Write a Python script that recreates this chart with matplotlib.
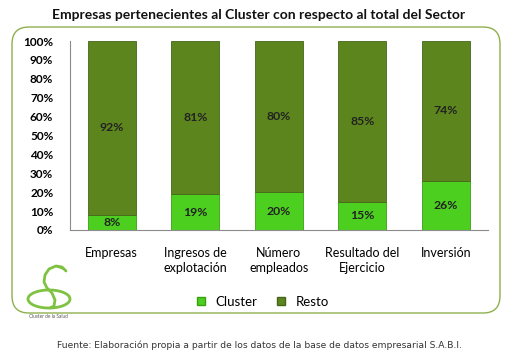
import matplotlib.pyplot as plt
from matplotlib.patches import FancyBboxPatch, Arc
from matplotlib.lines import Line2D
import numpy as np

# Data
categorias = ['Empresas', 'Ingresos de\nexplotación', 'Número\nempleados',
              'Resultado del\nEjercicio', 'Inversión']
cluster = [8, 19, 20, 15, 26]
resto = [92, 81, 80, 85, 74]

col_cluster = '#4ccf1f'
col_resto = '#5c861d'

plt.rcParams['font.family'] = ['Lato', 'DejaVu Sans']

fig = plt.figure(figsize=(5.18, 3.61), dpi=100)
ax = fig.add_axes([70 / 518, 131 / 361, 417.5 / 518, 189 / 361])

x = np.arange(len(categorias))
ax.bar(x, cluster, width=0.57, color=col_cluster, edgecolor='#3aa012', linewidth=0.6)
ax.bar(x, resto, width=0.57, bottom=cluster, color=col_resto, edgecolor='#45661a', linewidth=0.6)

for i in range(len(x)):
    ax.text(x[i], cluster[i] / 2, f'{cluster[i]}%', ha='center', va='center',
            fontsize=8.8, fontweight='bold', color='#222222')
    ax.text(x[i], cluster[i] + resto[i] / 2, f'{resto[i]}%', ha='center', va='center',
            fontsize=8.8, fontweight='bold', color='#222222')

ax.set_xlim(-0.5, len(x) - 0.5)
ax.set_ylim(0, 100)
ax.set_yticks(range(0, 101, 10))
ax.set_yticklabels([f'{v}%' for v in range(0, 101, 10)], fontsize=8.5, fontweight='bold')
ax.set_xticks(x)
ax.set_xticklabels(categorias, fontsize=9, va='top', linespacing=1.35)
ax.tick_params(axis='both', length=0)
ax.tick_params(axis='x', pad=12)
ax.tick_params(axis='y', pad=12)
for s in ['top', 'right']:
    ax.spines[s].set_visible(False)
for s in ['left', 'bottom']:
    ax.spines[s].set_color('#8c8c8c')
    ax.spines[s].set_linewidth(0.8)

# Rounded frame around the chart
frame = FancyBboxPatch((0.27, 0.63), 4.58, 2.56, boxstyle='round,pad=0.15,rounding_size=0.17',
                       transform=fig.dpi_scale_trans, facecolor='none',
                       edgecolor='#8eb04c', linewidth=1.0, zorder=0)
fig.patches.append(frame)

fig.text(0.5, 1 - 15 / 361, 'Empresas pertenecientes al Cluster con respecto al total del Sector',
         ha='center', va='center', fontsize=10, fontweight='bold', color='#111111')

handles = [Line2D([], [], marker='s', linestyle='none', markersize=6,
                  markerfacecolor=col_cluster, markeredgecolor='#3aa012'),
           Line2D([], [], marker='s', linestyle='none', markersize=6,
                  markerfacecolor=col_resto, markeredgecolor='#45661a')]
fig.legend(handles, ['Cluster', 'Resto'], loc='center', bbox_to_anchor=(258 / 518, 1 - 302 / 361),
           ncol=2, frameon=False, handletextpad=0.1, columnspacing=0.8,
           prop={'size': 9.5})

# Small logo in the lower left corner
lax = fig.add_axes([18 / 518, 1 - 318 / 361, 60 / 518, 58 / 361])
lax.set_xlim(0, 60)
lax.set_ylim(0, 58)
lax.axis('off')
lax.add_patch(Arc((31, 19), 42, 18, theta1=0, theta2=360, color='#7fc241', lw=2.0))
# hook-shaped stroke: top curl, down the left, then through the ring
hx = [48, 44, 38, 31, 27, 26, 29, 34, 37, 36, 32]
hy = [47, 51, 52, 49, 43, 36, 30, 25, 18, 12, 10]
lax.plot(hx, hy, color='#7fc241', lw=2.0, solid_capstyle='round')
lax.plot([38, 46], [52, 49], color='#7fc241', lw=1.6, solid_capstyle='round')
lax.text(30, 2, 'Cluster de la Salud', ha='center', va='center', fontsize=3.4, color='#555555')

fig.text(0.5, 1 - 345 / 361,
         'Fuente: Elaboración propia a partir de los datos de la base de datos empresarial S.A.B.I.',
         ha='center', va='center', fontsize=6.6, color='#333333', family=['DejaVu Sans'])

fig.savefig('out.png', dpi=100)
